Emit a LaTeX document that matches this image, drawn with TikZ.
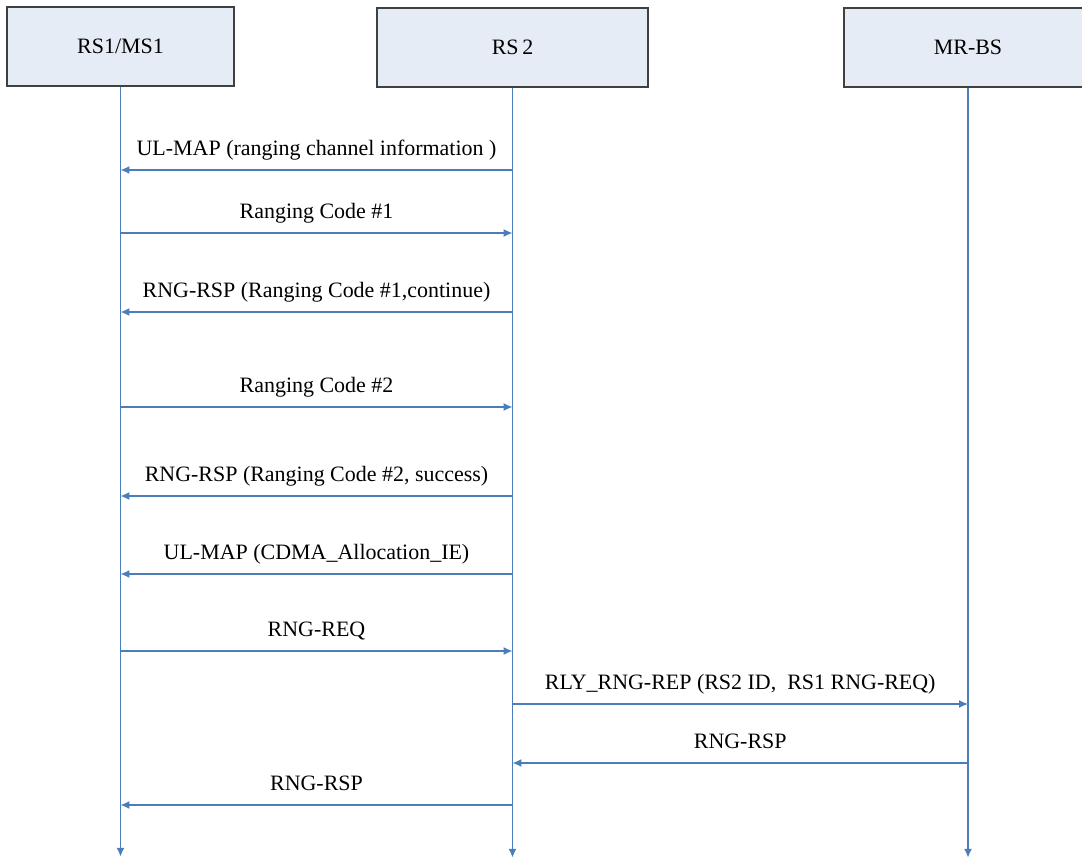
\documentclass[tikz,border=0pt]{standalone}
\usepackage{fontspec}
\setmainfont{Liberation Serif}
\newfontfamily\msgfont{Liberation Serif}
\usetikzlibrary{arrows.meta}
\definecolor{linecolor}{HTML}{4A7EBB}
\definecolor{boxcolor}{HTML}{E6ECF5}

\begin{document}
\begin{tikzpicture}[x=0.02cm,y=-0.02cm,
  actor/.style={draw=black!75,fill=boxcolor,line width=0.7pt,minimum height=1.58cm,font=\msgfont\fontsize{12.5}{15}\selectfont},
  msg/.style={linecolor,line width=0.8pt,-{Latex[length=5pt,width=4.5pt]}},
  lbl/.style={black,font=\msgfont\fontsize{12.5}{15}\selectfont}]
\useasboundingbox (0,0) rectangle (1082,861);
\begin{scope}
  \clip (0,0) rectangle (1082,861);
  \node[actor,minimum width=4.54cm] (rs1) at (120.5,46.5) {RS1/MS1};
  \node[actor,minimum width=5.42cm] (rs2) at (512.5,47.5) {RS\,2};
  \node[actor,minimum width=4.96cm] (mrbs) at (968,47.5) {MR-BS};
\end{scope}
%% lifelines
\foreach \n in {rs1,rs2,mrbs}
  \draw[msg] (\n.south) -- ++(0,770);
%% messages
\foreach \y/\a/\b/\t in {
    170/rs2/rs1/{UL-MAP (ranging channel information )},
    233/rs1/rs2/{Ranging Code \#1},
    312/rs2/rs1/{RNG-RSP (Ranging Code \#1,continue)},
    407/rs1/rs2/{Ranging Code \#2},
    496/rs2/rs1/{RNG-RSP (Ranging Code \#2, success)},
    574/rs2/rs1/{UL-MAP (CDMA\_Allocation\_IE)},
    651/rs1/rs2/{RNG-REQ},
    704/rs2/mrbs/{RLY\_RNG-REP (RS2 ID,\ \ RS1 RNG-REQ)},
    763/mrbs/rs2/{RNG-RSP},
    805/rs2/rs1/{RNG-RSP}}
  \draw[msg] (\a |- 0,\y) -- (\b |- 0,\y) node[lbl,midway,anchor=base,yshift=8pt] {\t};
\end{tikzpicture}
\end{document}
